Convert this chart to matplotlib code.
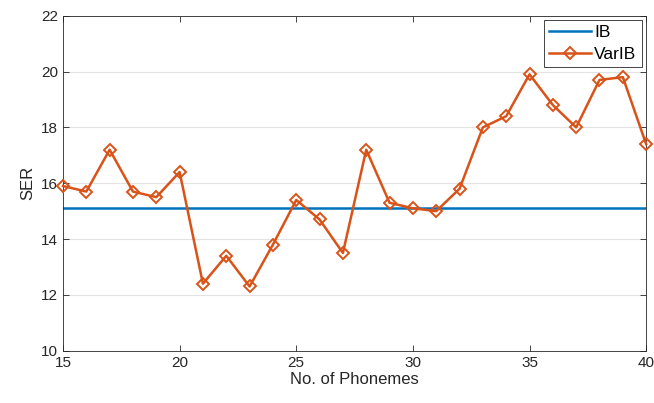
import numpy as np
import matplotlib
matplotlib.use("Agg")
import matplotlib.pyplot as plt

plt.rcParams['font.family'] = ['Liberation Sans', 'DejaVu Sans']

phonemes = list(range(15, 41))
ib_ser = 15.1
varib_ser = [15.9, 15.7, 17.2, 15.7, 15.5, 16.4, 12.4, 13.4, 12.3, 13.8,
             15.4, 14.7, 13.5, 17.2, 15.3, 15.1, 15.0, 15.8, 18.0, 18.4,
             19.9, 18.8, 18.0, 19.7, 19.8, 17.4]

fig = plt.figure(figsize=(6.54, 4.03), dpi=100)
ax = fig.add_axes([0.0963, 0.1298, 0.8917, 0.8312])

ax.plot(phonemes, [ib_ser] * len(phonemes), color="#0072BD", lw=1.8, label="IB")
ax.plot(phonemes, varib_ser, color="#D95319", lw=1.8, marker="D", ms=6,
        mfc="none", mec="#D95319", mew=1.4, label="VarIB", clip_on=False,
        zorder=3)

ax.set_xlim(15, 40)
ax.set_ylim(10, 22)
ax.set_xticks(np.arange(15, 41, 5))
ax.set_yticks(np.arange(10, 23, 2))
ax.yaxis.grid(True, color="#e3e3e3", lw=0.8)
ax.set_axisbelow(True)
for s in ax.spines.values():
    s.set_color("#262626")
    s.set_linewidth(0.6)
ax.tick_params(direction="in", top=True, right=True, length=4, width=0.6,
               colors="#262626", labelsize=11)

ax.set_xlabel("No. of Phonemes", fontsize=12, color="#262626", labelpad=2)
ax.set_ylabel("SER", fontsize=12, color="#262626", labelpad=4)

leg = ax.legend(loc="upper right", fontsize=12.5, fancybox=False, framealpha=1,
                edgecolor="#262626", borderpad=0.3, handlelength=2.4,
                handletextpad=0.2, borderaxespad=0.25, labelspacing=0.35)
leg.get_frame().set_linewidth(0.6)

fig.savefig("out.png", dpi=100)
